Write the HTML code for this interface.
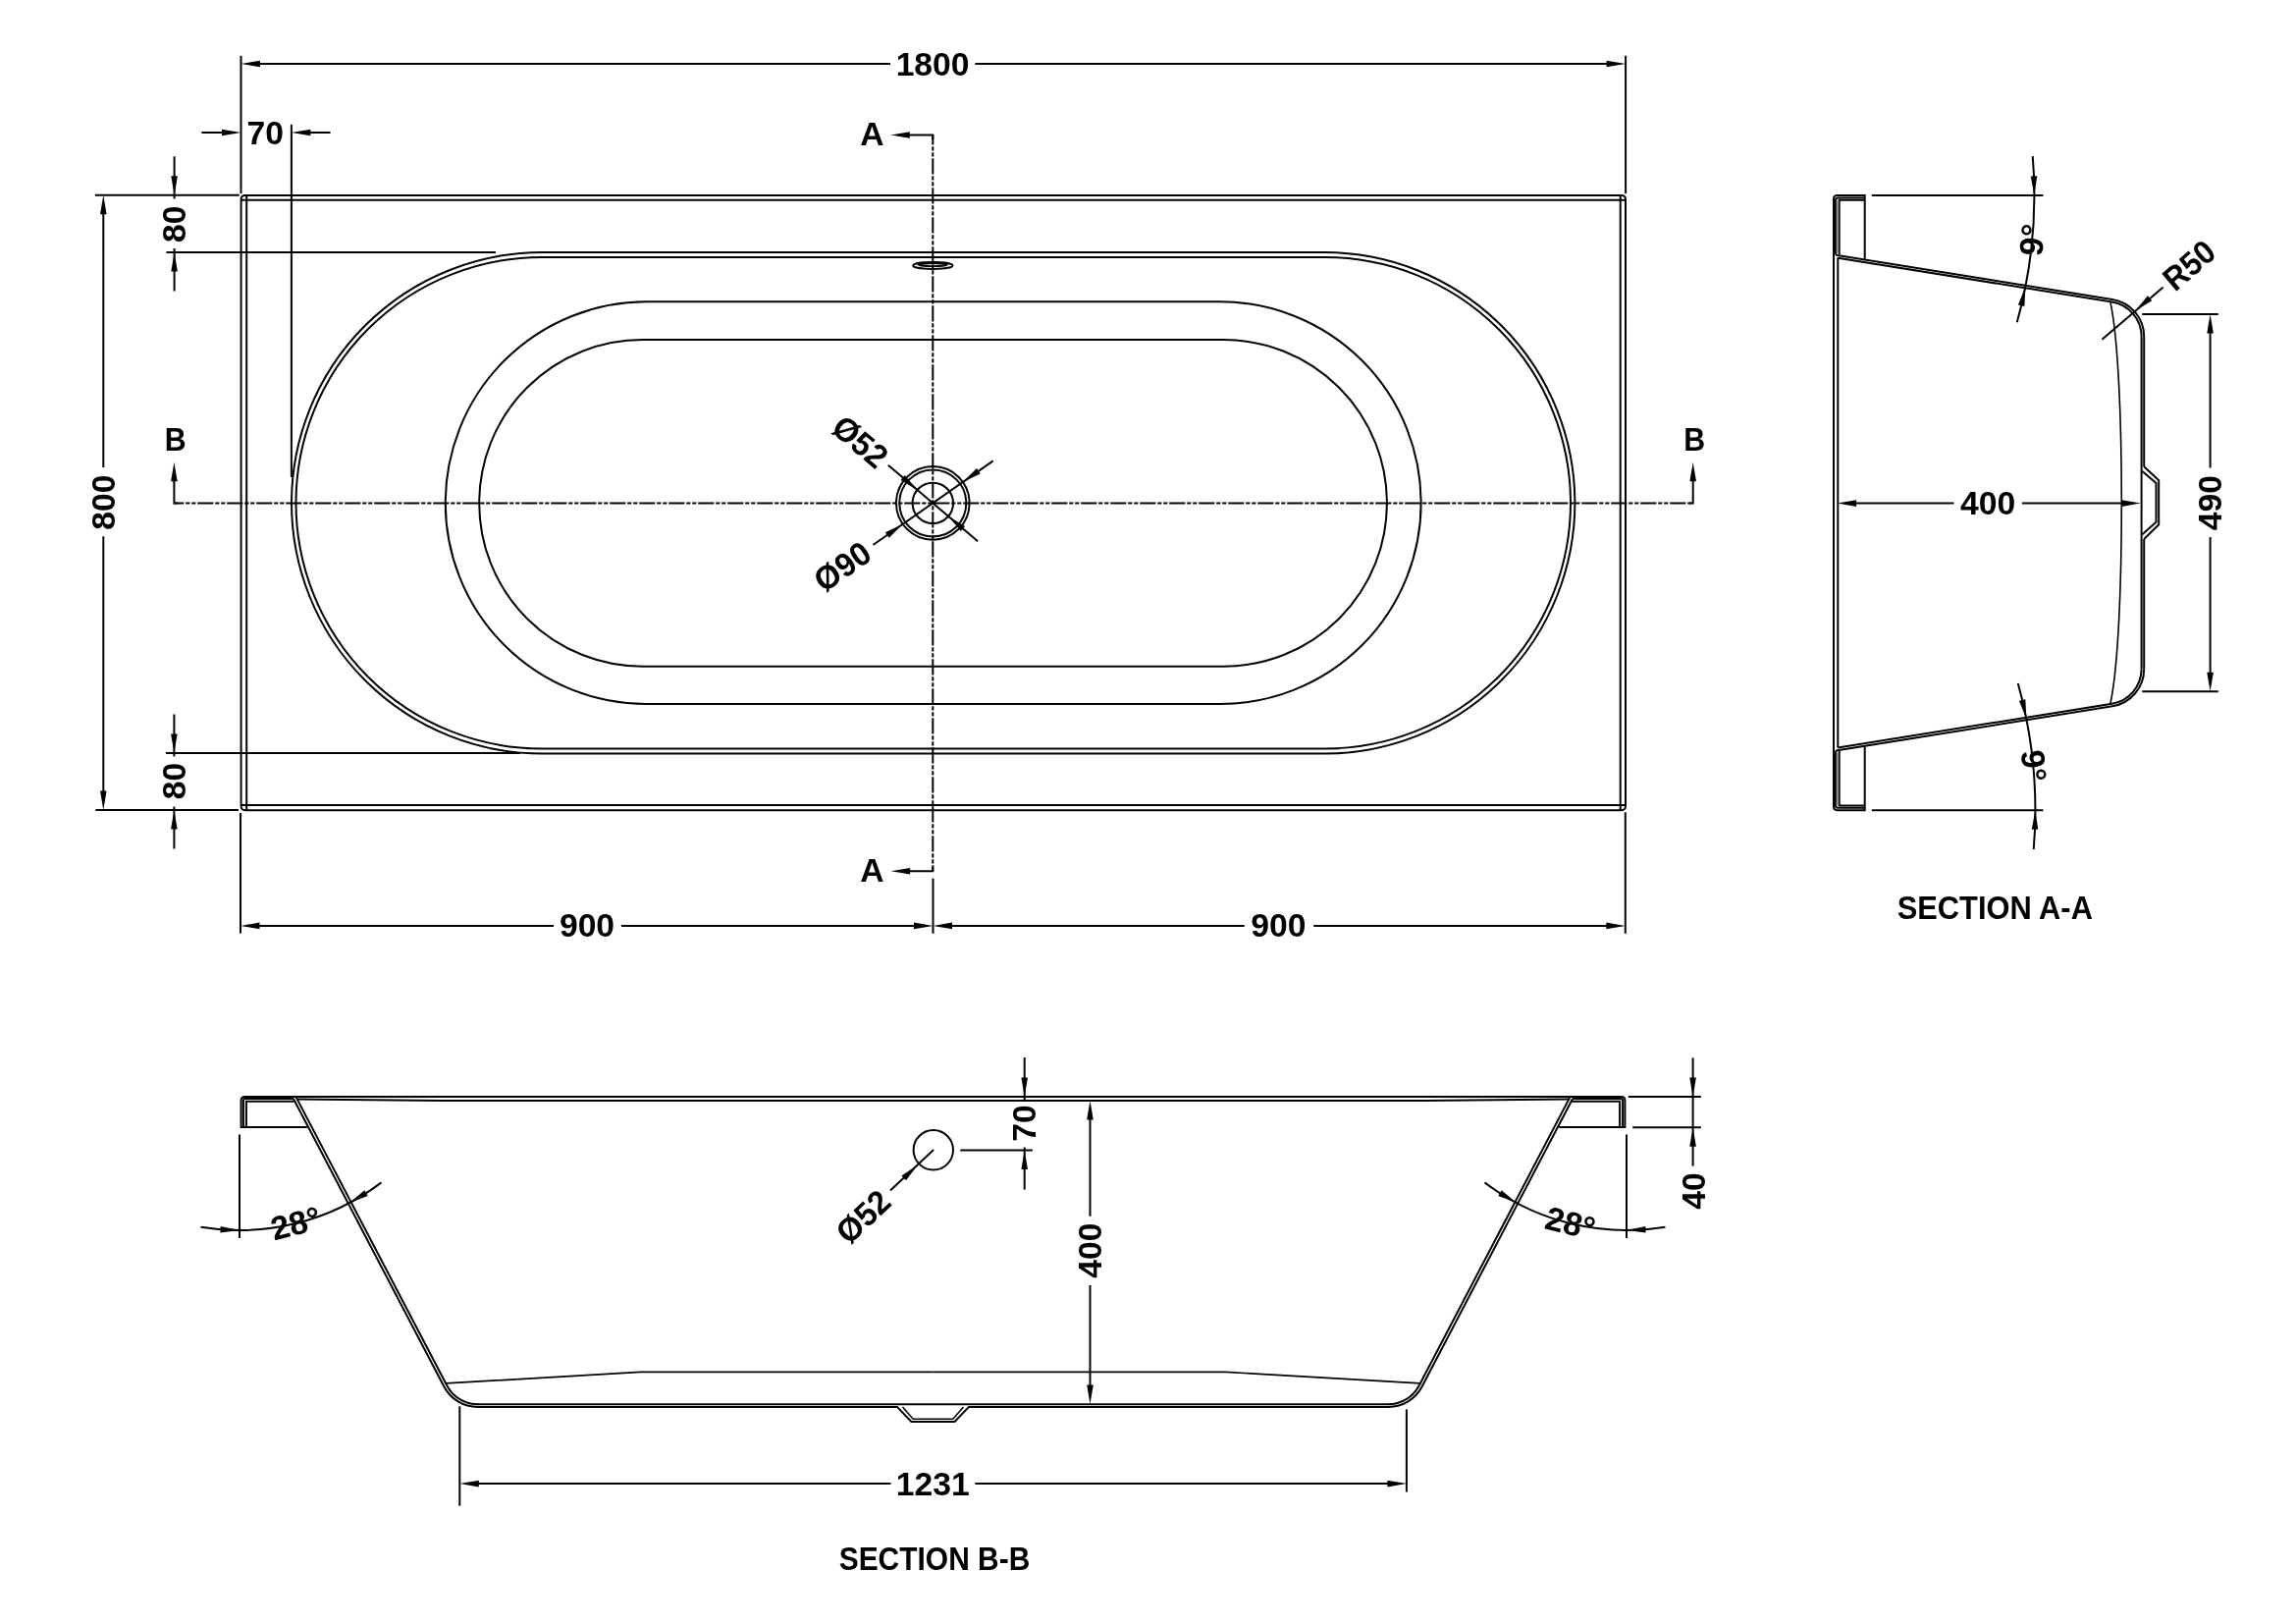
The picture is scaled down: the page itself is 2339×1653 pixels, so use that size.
<!DOCTYPE html>
<html><head><meta charset="utf-8"><title>Bath technical drawing</title>
<style>
html,body{margin:0;padding:0;background:#fff;}
body{width:2339px;height:1653px;overflow:hidden;}
svg{display:block;will-change:transform;opacity:0.999;}
svg *{vector-effect:none;}
.d line,.d path,.d rect,.d circle,.d ellipse{fill:none;stroke:#000;stroke-width:2.0;}
.d .ah{fill:#000;stroke:none;}
.d .gf{fill:#8c8c8c;stroke:none;}
.d text{font-family:"Liberation Sans",sans-serif;font-weight:bold;fill:#000;stroke:none;}
</style></head><body>
<svg class="d" width="2339" height="1653" viewBox="0 0 2339 1653">
<!-- top view -->
<rect x="245.6" y="198.9" width="1410.4" height="626.3" rx="4" ry="4"/>
<line x1="245.60" y1="203.80" x2="1656.00" y2="203.80"/>
<line x1="245.60" y1="820.10" x2="1656.00" y2="820.10"/>
<line x1="251.20" y1="198.90" x2="251.20" y2="825.20"/>
<line x1="1650.70" y1="198.90" x2="1650.70" y2="825.20"/>
<path d="M552.20,257.00 H1349.20 A255.30,255.30 0 0 1 1349.20,767.60 H552.20 A255.30,255.30 0 0 1 552.20,257.00 Z"/>
<path d="M551.75,262.00 H1349.75 A250.25,250.25 0 0 1 1349.75,762.50 H551.75 A250.25,250.25 0 0 1 551.75,262.00 Z"/>
<path d="M658.55,307.30 H1242.85 A204.85,204.85 0 0 1 1242.85,717.00 H658.55 A204.85,204.85 0 0 1 658.55,307.30 Z"/>
<path d="M654.50,346.10 H1246.60 A166.30,166.30 0 0 1 1246.60,678.70 H654.50 A166.30,166.30 0 0 1 654.50,346.10 Z"/>
<ellipse cx="950.3" cy="270.5" rx="20.1" ry="3.4"/>
<ellipse cx="950.3" cy="269.7" rx="14.5" ry="1.5" style="stroke-width:1.8"/>
<circle cx="950.3" cy="512.4" r="37.3"/>
<circle cx="950.3" cy="512.4" r="34.0"/>
<circle cx="950.3" cy="512.4" r="20.7"/>
<line x1="950.30" y1="137.50" x2="950.30" y2="887.30" stroke-dasharray="16.2 1.8 4.2 1.8 4.2 1.8" stroke-dashoffset="6.2"/>
<line x1="177.40" y1="512.40" x2="1724.70" y2="512.40" stroke-dasharray="16.2 1.8 4.2 1.8 4.2 1.8" stroke-dashoffset="6.2"/>
<path d="M950.3,142 V137.5 H925"/>
<polygon class="ah" points="907.40,137.50 926.90,134.20 926.90,140.80"/>
<path d="M950.3,883 V887.3 H925"/>
<polygon class="ah" points="907.60,887.30 927.10,884.00 927.10,890.60"/>
<text transform="translate(888.30,136.60)" y="11.79" text-anchor="middle" font-size="33.7">A</text>
<text transform="translate(888.40,886.20)" y="11.79" text-anchor="middle" font-size="33.7">A</text>
<path d="M181,512.4 H177.4 V488"/>
<polygon class="ah" points="177.40,470.70 180.70,490.20 174.10,490.20"/>
<path d="M1721,512.4 H1724.7 V488"/>
<polygon class="ah" points="1724.70,470.80 1728.00,490.30 1721.40,490.30"/>
<text transform="translate(178.60,447.20) scale(0.9,1)" y="11.79" text-anchor="middle" font-size="33.7">B</text>
<text transform="translate(1726.20,447.50) scale(0.9,1)" y="11.79" text-anchor="middle" font-size="33.7">B</text>
<line x1="245.50" y1="56.80" x2="245.50" y2="197.20"/>
<line x1="1656.10" y1="56.80" x2="1656.10" y2="197.20"/>
<line x1="260.00" y1="65.00" x2="907.00" y2="65.00"/>
<line x1="993.30" y1="65.00" x2="1642.00" y2="65.00"/>
<polygon class="ah" points="245.50,65.00 265.00,61.70 265.00,68.30"/>
<polygon class="ah" points="1656.10,65.00 1636.60,68.30 1636.60,61.70"/>
<text transform="translate(950.10,65.10)" y="11.79" text-anchor="middle" font-size="33.7">1800</text>
<line x1="205.40" y1="135.00" x2="230.00" y2="135.00"/>
<polygon class="ah" points="245.50,135.00 226.00,138.30 226.00,131.70"/>
<line x1="336.60" y1="135.00" x2="312.00" y2="135.00"/>
<polygon class="ah" points="296.90,135.00 316.40,131.70 316.40,138.30"/>
<line x1="296.90" y1="126.70" x2="296.90" y2="486.00"/>
<text transform="translate(270.30,135.50)" y="11.79" text-anchor="middle" font-size="33.7">70</text>
<line x1="96.90" y1="198.80" x2="243.80" y2="198.80"/>
<line x1="169.40" y1="257.00" x2="505.00" y2="257.00"/>
<line x1="177.60" y1="159.30" x2="177.60" y2="202.50"/>
<polygon class="ah" points="177.60,198.80 174.30,179.30 180.90,179.30"/>
<line x1="177.60" y1="253.00" x2="177.60" y2="296.50"/>
<polygon class="ah" points="177.60,257.00 180.90,276.50 174.30,276.50"/>
<text transform="translate(177.30,228.20) rotate(-90)" y="11.79" text-anchor="middle" font-size="33.7">80</text>
<line x1="97.30" y1="825.10" x2="243.00" y2="825.10"/>
<line x1="105.30" y1="215.00" x2="105.30" y2="476.00"/>
<line x1="105.30" y1="546.30" x2="105.30" y2="810.00"/>
<polygon class="ah" points="105.30,198.80 108.60,218.30 102.00,218.30"/>
<polygon class="ah" points="105.30,825.10 102.00,805.60 108.60,805.60"/>
<text transform="translate(105.00,511.70) rotate(-90)" y="11.79" text-anchor="middle" font-size="33.7">800</text>
<line x1="169.00" y1="766.90" x2="530.00" y2="766.90"/>
<line x1="177.40" y1="727.50" x2="177.40" y2="770.50"/>
<polygon class="ah" points="177.40,766.90 174.10,747.40 180.70,747.40"/>
<line x1="177.40" y1="821.50" x2="177.40" y2="864.50"/>
<polygon class="ah" points="177.40,825.10 180.70,844.60 174.10,844.60"/>
<text transform="translate(177.60,795.60) rotate(-90)" y="11.79" text-anchor="middle" font-size="33.7">80</text>
<line x1="245.00" y1="827.90" x2="245.00" y2="950.50"/>
<line x1="950.50" y1="894.70" x2="950.50" y2="950.80"/>
<line x1="1655.80" y1="827.30" x2="1655.80" y2="950.80"/>
<line x1="260.00" y1="942.90" x2="564.00" y2="942.90"/>
<line x1="633.00" y1="942.90" x2="936.00" y2="942.90"/>
<polygon class="ah" points="245.00,942.90 264.50,939.60 264.50,946.20"/>
<polygon class="ah" points="950.50,942.90 931.00,946.20 931.00,939.60"/>
<line x1="965.00" y1="942.90" x2="1267.70" y2="942.90"/>
<line x1="1338.20" y1="942.90" x2="1641.00" y2="942.90"/>
<polygon class="ah" points="950.50,942.90 970.00,939.60 970.00,946.20"/>
<polygon class="ah" points="1655.80,942.90 1636.30,946.20 1636.30,939.60"/>
<text transform="translate(598.00,942.70)" y="11.79" text-anchor="middle" font-size="33.7">900</text>
<text transform="translate(1302.40,942.70)" y="11.79" text-anchor="middle" font-size="33.7">900</text>
<line x1="904.84" y1="473.85" x2="996.06" y2="551.21"/>
<polygon class="ah" points="934.51,499.01 917.51,488.92 921.78,483.88"/>
<polygon class="ah" points="966.09,525.79 983.09,535.88 978.82,540.92"/>
<text transform="translate(876.32,449.66) rotate(40.3) scale(0.97,1)" y="11.79" text-anchor="middle" font-size="33.7">Ø52</text>
<line x1="889.44" y1="555.02" x2="1011.74" y2="469.38"/>
<polygon class="ah" points="919.75,533.79 905.66,547.68 901.88,542.28"/>
<polygon class="ah" points="980.85,491.01 994.94,477.12 998.72,482.52"/>
<text transform="translate(858.15,576.93) rotate(-35.0) scale(0.97,1)" y="11.79" text-anchor="middle" font-size="33.7">Ø90</text>
<!-- section A-A -->
<path d="M1899.7,263.9 V198.95 H1871.6 Q1868,198.95 1868,202.6 V821.6 Q1868,825.25 1871.6,825.25 H1899.7 V760.3"/>
<path d="M1899.7,201.40 H1872.4 Q1870,201.40 1870,203.90 V257.50 Q1870,260.60 1873.2,260.15"/>
<path d="M1899.7,203.80 H1873.7 V259.50"/>
<rect class="gf" x="1870.6" y="204.50" width="2.6" height="53.5"/>
<path d="M1873.2,260.15 L2151.9,304.90 A38.4,38.4 0 0 1 2184.2,342.90"/>
<path d="M1872.3,262.65 L2151.5,307.50 A35.8,35.8 0 0 1 2181.6,342.90"/>
<path d="M1899.7,822.80 H1872.4 Q1870,822.80 1870,820.30 V766.70 Q1870,763.60 1873.2,764.05"/>
<path d="M1899.7,820.40 H1873.7 V764.70"/>
<rect class="gf" x="1870.6" y="766.20" width="2.6" height="53.5"/>
<path d="M1873.2,764.05 L2151.9,719.30 A38.4,38.4 0 0 0 2184.2,681.30"/>
<path d="M1872.3,761.55 L2151.5,716.70 A35.8,35.8 0 0 0 2181.6,681.30"/>
<line x1="1872.30" y1="262.60" x2="1872.30" y2="761.60"/>
<line x1="2181.60" y1="342.90" x2="2181.60" y2="681.30"/>
<line x1="2184.20" y1="342.90" x2="2184.20" y2="475.30"/>
<line x1="2184.20" y1="549.00" x2="2184.20" y2="681.30"/>
<path d="M2184.2,475.3 L2199.2,489.2 V534.3 L2184.2,549.0"/>
<path d="M2182.5,479.9 L2196.5,492.0 V531.8 L2182.5,544.3"/>
<path d="M2149.9,307.6 C2158,345 2161.3,430 2161.3,512.1 C2161.3,594.2 2158,679.2 2149.9,716.6" style="stroke-width:1.6"/>
<line x1="1886.00" y1="512.60" x2="1990.50" y2="512.60"/>
<line x1="2059.80" y1="512.60" x2="2166.00" y2="512.60"/>
<polygon class="ah" points="1871.60,512.60 1891.10,509.30 1891.10,515.90"/>
<polygon class="ah" points="2180.80,512.60 2161.30,515.90 2161.30,509.30"/>
<text transform="translate(2025.20,512.70)" y="11.79" text-anchor="middle" font-size="33.7">400</text>
<line x1="2182.30" y1="320.10" x2="2259.80" y2="320.10"/>
<line x1="2182.30" y1="704.20" x2="2259.80" y2="704.20"/>
<line x1="2251.60" y1="335.00" x2="2251.60" y2="476.50"/>
<line x1="2251.60" y1="547.10" x2="2251.60" y2="690.00"/>
<polygon class="ah" points="2251.60,320.10 2254.90,339.60 2248.30,339.60"/>
<polygon class="ah" points="2251.60,704.20 2248.30,684.70 2254.90,684.70"/>
<text transform="translate(2251.30,512.10) rotate(-90)" y="11.79" text-anchor="middle" font-size="33.7">490</text>
<line x1="1906.80" y1="198.90" x2="2081.40" y2="198.90"/>
<line x1="1906.80" y1="825.30" x2="2081.40" y2="825.30"/>
<path d="M2070.76,159.16 A482.9,482.9 0 0 1 2054.77,328.19"/>
<polygon class="ah" points="2072.40,198.90 2068.71,179.47 2075.30,179.34"/>
<polygon class="ah" points="2063.30,292.20 2062.37,311.96 2055.92,310.55"/>
<path d="M2071.76,865.04 A482.9,482.9 0 0 0 2055.77,696.01"/>
<polygon class="ah" points="2073.40,825.30 2076.30,844.86 2069.71,844.73"/>
<polygon class="ah" points="2064.30,732.00 2056.92,713.65 2063.37,712.24"/>
<text transform="translate(2070.00,244.30) rotate(-84.5)" y="11.79" text-anchor="middle" font-size="33.7">9°</text>
<text transform="translate(2072.00,780.00) rotate(84.5)" y="11.79" text-anchor="middle" font-size="33.7">9°</text>
<line x1="2141.40" y1="345.80" x2="2203.70" y2="292.40"/>
<polygon class="ah" points="2175.30,316.40 2187.96,301.20 2192.25,306.22"/>
<text transform="translate(2229.90,270.00) rotate(-40.6) scale(0.93,1)" y="11.79" text-anchor="middle" font-size="33.7">R50</text>
<text transform="translate(2032.30,924.40) scale(0.915,1)" y="11.79" text-anchor="middle" font-size="33.7">SECTION A-A</text>
<!-- section B-B -->
<path d="M312.8,1148.0 H245.6 V1120.6 Q245.6,1116.9 249.4,1116.9 H1651.6 Q1655.4,1116.9 1655.4,1120.6 V1148.0 H1588.2"/>
<path d="M298.80,1118.9 H249.80 Q247.90,1118.9 247.90,1120.8 V1148"/>
<path d="M299.90,1121.8 H250.90 V1148"/>
<path d="M298.80,1118.7 L452.38,1412.25 A38.5,38.5 0 0 0 486.50,1432.9"/>
<path d="M301.36,1116.9 L455.34,1411.20 A35.6,35.6 0 0 0 486.88,1430.3"/>
<path d="M454.30,1408.9 L652.60,1397.4 H950.5" style="stroke-width:1.7"/>
<path d="M1602.20,1118.9 H1651.20 Q1653.10,1118.9 1653.10,1120.8 V1148"/>
<path d="M1601.10,1121.8 H1650.10 V1148"/>
<path d="M1602.20,1118.7 L1448.62,1412.25 A38.5,38.5 0 0 1 1414.50,1432.9"/>
<path d="M1599.64,1116.9 L1445.66,1411.20 A35.6,35.6 0 0 1 1414.12,1430.3"/>
<path d="M1446.70,1408.9 L1248.40,1397.4 H950.5" style="stroke-width:1.7"/>
<path d="M302,1119.6 L450,1121.0 H1451.0 L1599.0,1119.6"/>
<line x1="486.00" y1="1430.30" x2="1415.00" y2="1430.30"/>
<path d="M486.0,1432.9 H914 L928.4,1447.9 H972.6 L987.0,1432.9 H1415.0"/>
<path d="M919.5,1432.9 L930.2,1445.2 H970.8 L981.5,1432.9" style="stroke-width:1.5"/>
<circle cx="950.8" cy="1171.3" r="20.2"/>
<line x1="907.00" y1="1212.60" x2="951.10" y2="1171.10"/>
<polygon class="ah" points="934.90,1186.50 922.97,1202.28 918.45,1197.47"/>
<text transform="translate(879.30,1239.00) rotate(-43.3) scale(0.965,1)" y="11.79" text-anchor="middle" font-size="33.7">Ø52</text>
<line x1="978.30" y1="1171.50" x2="1051.80" y2="1171.50"/>
<line x1="1043.70" y1="1077.00" x2="1043.70" y2="1120.00"/>
<polygon class="ah" points="1043.70,1117.00 1040.40,1097.50 1047.00,1097.50"/>
<line x1="1043.70" y1="1168.50" x2="1043.70" y2="1211.60"/>
<polygon class="ah" points="1043.70,1171.50 1047.00,1191.00 1040.40,1191.00"/>
<text transform="translate(1043.40,1144.00) rotate(-90)" y="11.79" text-anchor="middle" font-size="33.7">70</text>
<line x1="1110.50" y1="1136.00" x2="1110.50" y2="1238.80"/>
<line x1="1110.50" y1="1309.00" x2="1110.50" y2="1415.00"/>
<polygon class="ah" points="1110.50,1121.00 1113.80,1140.50 1107.20,1140.50"/>
<polygon class="ah" points="1110.50,1430.00 1107.20,1410.50 1113.80,1410.50"/>
<text transform="translate(1110.30,1273.70) rotate(-90)" y="11.79" text-anchor="middle" font-size="33.7">400</text>
<line x1="1658.90" y1="1117.00" x2="1732.90" y2="1117.00"/>
<line x1="1663.20" y1="1148.20" x2="1732.90" y2="1148.20"/>
<line x1="1724.60" y1="1077.40" x2="1724.60" y2="1187.60"/>
<polygon class="ah" points="1724.60,1117.00 1721.30,1097.50 1727.90,1097.50"/>
<polygon class="ah" points="1724.60,1148.20 1727.90,1167.70 1721.30,1167.70"/>
<text transform="translate(1724.90,1213.00) rotate(-90)" y="11.79" text-anchor="middle" font-size="33.7">40</text>
<line x1="468.30" y1="1432.30" x2="468.30" y2="1533.70"/>
<line x1="1432.90" y1="1435.30" x2="1432.90" y2="1519.50"/>
<line x1="483.00" y1="1511.10" x2="907.50" y2="1511.10"/>
<line x1="993.30" y1="1511.10" x2="1418.00" y2="1511.10"/>
<polygon class="ah" points="468.30,1511.10 487.80,1507.80 487.80,1514.40"/>
<polygon class="ah" points="1432.90,1511.10 1413.40,1514.40 1413.40,1507.80"/>
<text transform="translate(950.20,1511.30)" y="11.79" text-anchor="middle" font-size="33.7">1231</text>
<text transform="translate(952.00,1587.40) scale(0.889,1)" y="11.79" text-anchor="middle" font-size="33.7">SECTION B-B</text>
<line x1="244.00" y1="1155.40" x2="244.00" y2="1261.00"/>
<path d="M204.55,1249.72 A239.0,239.0 0 0 0 388.50,1204.37"/>
<polygon class="ah" points="244.00,1253.00 224.38,1255.50 224.65,1248.90"/>
<polygon class="ah" points="356.20,1225.02 371.36,1212.32 374.70,1218.02"/>
<text transform="translate(301.20,1245.80) rotate(-14)" y="11.79" text-anchor="middle" font-size="33.7">28°</text>
<line x1="1657.00" y1="1155.40" x2="1657.00" y2="1261.00"/>
<path d="M1696.45,1249.72 A239.0,239.0 0 0 1 1512.50,1204.37"/>
<polygon class="ah" points="1657.00,1253.00 1676.35,1248.90 1676.62,1255.50"/>
<polygon class="ah" points="1544.80,1225.02 1526.30,1218.02 1529.64,1212.32"/>
<text transform="translate(1599.80,1245.80) rotate(14)" y="11.79" text-anchor="middle" font-size="33.7">28°</text>
</svg>
</body></html>
